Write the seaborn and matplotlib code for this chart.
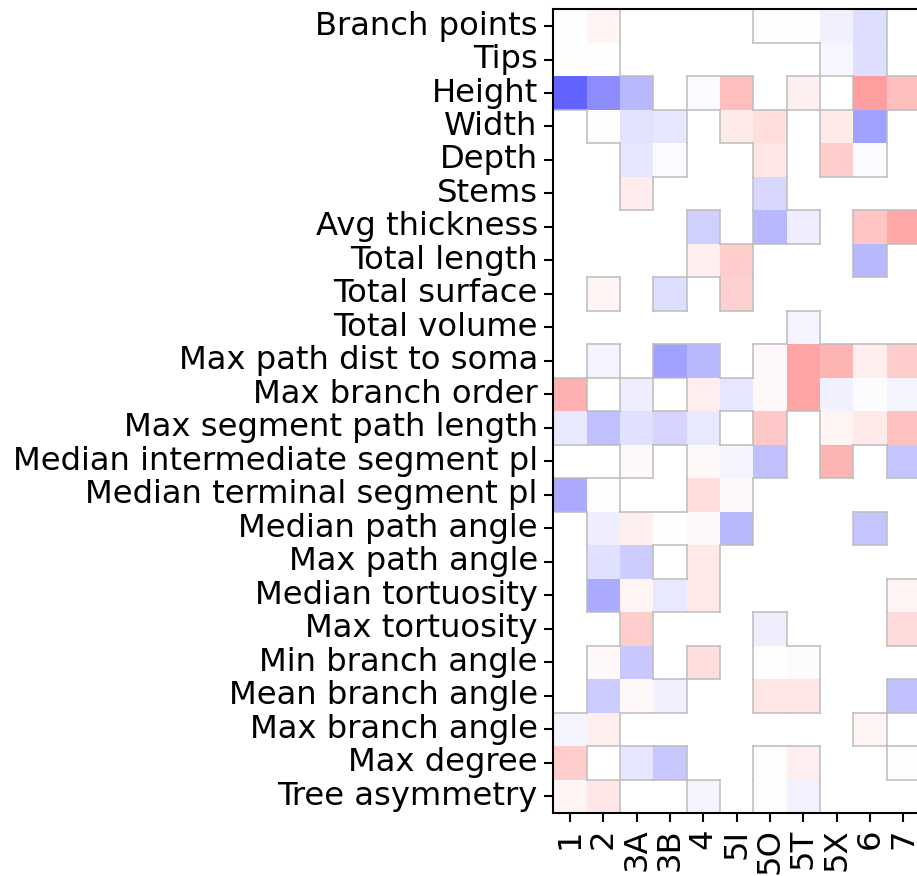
import numpy as np
import pandas as pd
import matplotlib
matplotlib.use('Agg')
import matplotlib.pyplot as plt
import seaborn as sns

nan = np.nan

# Morphometric features (rows, top to bottom)
features = ['Branch points', 'Tips', 'Height', 'Width', 'Depth', 'Stems',
            'Avg thickness', 'Total length', 'Total surface', 'Total volume',
            'Max path dist to soma', 'Max branch order', 'Max segment path length',
            'Median intermediate segment pl', 'Median terminal segment pl',
            'Median path angle', 'Max path angle', 'Median tortuosity',
            'Max tortuosity', 'Min branch angle', 'Mean branch angle',
            'Max branch angle', 'Max degree', 'Tree asymmetry']

# Cell types (columns)
types = ['1', '2', '3A', '3B', '4', '5I', '5O', '5T', '5X', '6', '7']

# One list per cell type (nan = no value)
v_1 = [0.005, 0.003, -0.61, nan, nan, nan, nan, nan, nan, nan, nan, 0.31,
       -0.09, nan, -0.33, nan, nan, nan, nan, nan, nan, -0.04, 0.2, 0.04]
v_2 = [0.04, 0.003, -0.45, 0.01, nan, nan, nan, nan, 0.04, nan, -0.04, nan,
       -0.25, nan, 0.01, -0.07, -0.12, -0.33, nan, 0.027, -0.2, 0.07, nan, 0.1]
v_3A = [nan, nan, -0.28, -0.11, -0.1, 0.078, nan, nan, nan, nan, nan, -0.07,
        -0.12, 0.03, nan, 0.07, -0.2, 0.04, 0.2, -0.216, 0.027, nan, -0.1, nan]
v_3B = [nan, nan, nan, -0.1, -0.02, nan, nan, nan, -0.13, nan, -0.37, nan,
        -0.165, nan, nan, 0.005, nan, -0.09, nan, nan, -0.06, nan, -0.216, nan]
v_4 = [nan, nan, -0.02, nan, nan, nan, -0.184, 0.07, nan, nan, -0.278, 0.07,
       -0.09, 0.03, 0.125, 0.027, 0.09, 0.09, nan, 0.125, nan, nan, nan, -0.04]
v_5I = [nan, nan, 0.255, 0.08, nan, nan, nan, 0.2, 0.184, nan, nan, -0.1,
        nan, -0.04, 0.03, -0.28, nan, nan, nan, nan, nan, nan, nan, nan]
v_5O = [0.015, nan, nan, 0.125, 0.1, -0.15, -0.28, nan, nan, nan, 0.027, 0.027,
        0.216, -0.25, nan, nan, nan, nan, -0.07, 0.003, 0.1, nan, 0.01, 0.01]
v_5T = [0.01, nan, 0.06, nan, nan, nan, -0.07, nan, nan, -0.04, 0.353, 0.353,
        nan, nan, nan, nan, nan, nan, nan, -0.012, 0.1, nan, 0.07, -0.05]
v_5X = [-0.06, -0.035, nan, 0.08, 0.2, nan, nan, nan, nan, nan, 0.29, -0.06,
        0.04, 0.29, nan, nan, nan, nan, nan, nan, nan, nan, nan, nan]
v_6 = [-0.13, -0.13, 0.38, -0.37, -0.02, nan, 0.227, -0.278, nan, nan, 0.07, -0.01,
       0.09, nan, nan, -0.227, nan, nan, nan, nan, nan, 0.04, nan, nan]
v_7 = [nan, nan, 0.255, nan, nan, nan, 0.34, nan, nan, nan, 0.2, -0.04,
       0.247, -0.227, nan, nan, nan, 0.04, 0.133, nan, -0.247, nan, 0.008, nan]

df = pd.DataFrame({'1': v_1, '2': v_2, '3A': v_3A, '3B': v_3B, '4': v_4,
                   '5I': v_5I, '5O': v_5O, '5T': v_5T, '5X': v_5X,
                   '6': v_6, '7': v_7}, index=features)[types]

fig = plt.figure(figsize=(9.17, 8.76), dpi=100)
ax = fig.add_axes([0.6034, 0.0719, 0.4, 0.9175])

sns.heatmap(df, cmap='bwr', vmin=-1, vmax=1, cbar=False, ax=ax,
            xticklabels=types, yticklabels=features)

# grey outline where cells with values meet empty cells
has = df.notna().values
nr, nc = has.shape
for r in range(nr - 1):
    for c in range(nc):
        if has[r, c] != has[r + 1, c]:
            ax.plot([c, c + 1], [r + 1, r + 1], color='#bdbdbd', lw=1.1,
                    solid_capstyle='projecting', zorder=3)
for r in range(nr):
    for c in range(nc - 1):
        if has[r, c] != has[r, c + 1]:
            ax.plot([c + 1, c + 1], [r, r + 1], color='#bdbdbd', lw=1.1,
                    solid_capstyle='projecting', zorder=3)

# heatmap hides the spines, bring the frame back
for s in ax.spines.values():
    s.set_visible(True)
    s.set_linewidth(1.5)
    s.set_color('black')
    s.set_zorder(4)

ax.set_yticklabels(features, rotation=0, fontsize=23.2)
ax.set_xticklabels(types, rotation=90, fontsize=23.2)
ax.tick_params(length=6.2, width=1.5, pad=5)
ax.set_xlabel('')
ax.set_ylabel('')

fig.savefig('out.png', dpi=100)
